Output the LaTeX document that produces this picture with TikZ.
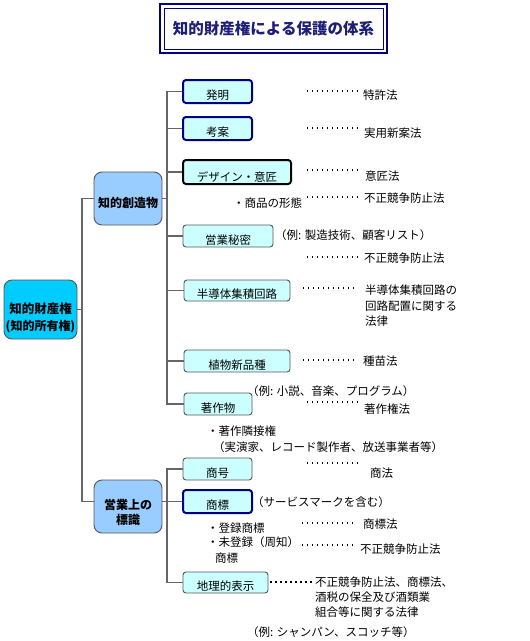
\documentclass[tikz,border=0pt]{standalone}
\usepackage{fontspec}
\setmainfont{Noto Sans CJK JP}
\definecolor{navy}{HTML}{000080}
\definecolor{titlecol}{HTML}{1E1E78}
\definecolor{rootfill}{HTML}{00CCFF}
\definecolor{midfill}{HTML}{99CCFF}
\definecolor{boxfill}{HTML}{CCFFFF}
\definecolor{boxgray}{HTML}{555555}
\definecolor{linegray}{HTML}{666666}
\begin{document}
\begin{tikzpicture}[x=1pt,y=-1pt,
  conn/.style={draw=linegray, line width=1.2pt},
  leader/.style={draw=black, line width=1.6pt, dash pattern=on 1.2pt off 3.8pt},
  box/.style={draw=boxgray, line width=0.9pt, fill=boxfill, rounded corners=3pt, inner sep=0pt,
    font=\fontsize{11.5}{13}\selectfont, text height=16.5pt, text depth=0pt},
  navybox/.style={box, draw=navy, line width=2pt},
  blackbox/.style={box, draw=black, line width=2pt, text height=18.5pt},
  bigbox/.style={draw=boxgray, line width=0.9pt, rounded corners=8pt, inner sep=0pt},
  boldtxt/.style={inner sep=0pt, align=center, font=\fontsize{12.5}{18}\selectfont\bfseries},
  txt/.style={anchor=west, inner sep=0pt, font=\fontsize{11.5}{14}\selectfont, text height=10pt, text depth=1.3pt},
]
\useasboundingbox (0,0) rectangle (530,641);

% title
\node[draw=navy, line width=2.8pt, minimum width=227pt, minimum height=49pt, inner sep=0pt] (title) at (273.5,28.5) {};
\node[draw=navy, line width=0.8pt, minimum width=219pt, minimum height=41pt, inner sep=0pt,
  font=\fontsize{15.5}{18}\selectfont\bfseries, text=titlecol] (titletext) at (273.5,28.5) {知的財産権による保護の体系};

% big nodes
\node[bigbox, fill=rootfill, minimum width=73pt, minimum height=59pt] (root) at (40.5,309.5) {};
\node[boldtxt] (rootlabel) at ([yshift=-8.5pt]root.center) {知的財産権\\[-1pt]{\fontsize{12}{14}\selectfont (知的所有権)}};
\node[bigbox, fill=midfill, minimum width=68pt, minimum height=53pt] (chiteki) at (128,198.5) {};
\node[boldtxt, font=\fontsize{12}{15}\selectfont\bfseries] (chitekilabel) at ([yshift=-4.5pt]chiteki.center) {知的創造物};
\node[bigbox, fill=midfill, minimum width=68pt, minimum height=53pt] (kei) at (128,506.5) {};
\node[boldtxt, font=\fontsize{12}{15}\selectfont\bfseries] (keilabel) at ([yshift=-6pt]kei.center) {営業上の\\標識};

% child boxes
\node[navybox, minimum width=69pt, minimum height=23pt] (hatsumei) at (217.5,91.5) {発明};
\node[navybox, minimum width=69pt, minimum height=23pt] (kouan) at (217.5,128.5) {考案};
\node[blackbox, minimum width=108pt, minimum height=24pt] (design) at (237,172) {デザイン・意匠};
\node[box, minimum width=90pt, minimum height=22pt] (eigyo) at (228,236) {営業秘密};
\node[box, minimum width=106pt, minimum height=21pt] (handotai) at (237,290.5) {半導体集積回路};
\node[box, minimum width=106pt, minimum height=22pt] (shokubutsu) at (237,361) {植物新品種};
\node[box, minimum width=68pt, minimum height=22pt] (chosaku) at (218,404) {著作物};
\node[box, minimum width=69pt, minimum height=22pt] (shogo) at (217.5,469) {商号};
\node[navybox, minimum width=69pt, minimum height=23pt] (shohyo) at (217.5,501.5) {商標};
\node[box, minimum width=85pt, minimum height=21pt] (chiri) at (225.5,582.5) {地理的表示};

% spines
\coordinate (s0) at (82,0);
\coordinate (s1) at (167,0);
\draw[conn] (root.east) -- (root.east -| s0);
\draw[conn] (chiteki.west) -- (chiteki.west -| s0) -- (s0 |- shohyo.west) -- (kei.west |- shohyo.west);
\draw[conn] (chiteki.east) -- (chiteki.east -| s1);
\draw[conn] (hatsumei.west) -- (hatsumei.west -| s1) -- (chosaku.west -| s1) -- (chosaku.west);
\foreach \n in {kouan,design,eigyo,handotai,shokubutsu} \draw[conn] (\n.west) -- (\n.west -| s1);
\draw[conn] (kei.east |- shohyo.west) -- (shohyo.west);
\draw[conn] (shogo.west) -- (shogo.west -| s1) -- (chiri.west -| s1) -- (chiri.west);

% leaders
\draw[leader] (307,91) -- (358,91);
\draw[leader] (307,128) -- (358,128);
\draw[leader] (307,170) -- (358,170);
\draw[leader] (307,197) -- (358,197);
\draw[leader] (307,257) -- (358,257);
\draw[leader] (303,288) -- (354,288);
\draw[leader] (303,360) -- (354,360);
\draw[leader] (307,402) -- (358,402);
\draw[leader] (307,463) -- (358,463);
\draw[leader] (302,523) -- (353,523);
\draw[leader] (302,545) -- (353,545);
\draw[leader] ([xshift=2pt]chiri.east |- 0,582) -- (314,582);

% right texts
\node[txt] (t1) at (363,95) {特許法};
\node[txt] (t2) at (364,133) {実用新案法};
\node[txt] (t3) at (365,176) {意匠法};
\node[txt] (t4a) at (233,203) {・商品の形態};
\node[txt] (t4) at (364,198) {不正競争防止法};
\node[txt] (t5a) at (275,235) {（例: 製造技術、顧客リスト）};
\node[txt] (t5) at (364,258) {不正競争防止法};
\node[txt] (t6a) at (365,290) {半導体集積回路の};
\node[txt] (t6b) at (365,306) {回路配置に関する};
\node[txt] (t6c) at (365,321) {法律};
\node[txt] (t7) at (363,361) {種苗法};
\node[txt] (t8a) at (247,391) {（例: 小説、音楽、プログラム）};
\node[txt] (t8) at (364,409) {著作権法};
\node[txt] (t9a) at (207,431) {・著作隣接権};
\node[txt] (t9b) at (213,447) {（実演家、レコード製作者、放送事業者等）};
\node[txt] (t10) at (370,473) {商法};
\node[txt] (t11a) at (252,502) {（サービスマークを含む）};
\node[txt] (t12a) at (207,528) {・登録商標};
\node[txt] (t12) at (363,524) {商標法};
\node[txt] (t13a) at (207,542) {・未登録（周知）};
\node[txt] (t13b) at (215,558) {商標};
\node[txt] (t13) at (360,549) {不正競争防止法};
\node[txt] (t14a) at (315,582) {不正競争防止法、商標法、};
\node[txt] (t14b) at (315,597) {酒税の保全及び酒類業};
\node[txt] (t14c) at (315,612) {組合等に関する法律};
\node[txt] (t15) at (247,632) {（例: シャンパン、スコッチ等）};
\end{tikzpicture}
\end{document}
